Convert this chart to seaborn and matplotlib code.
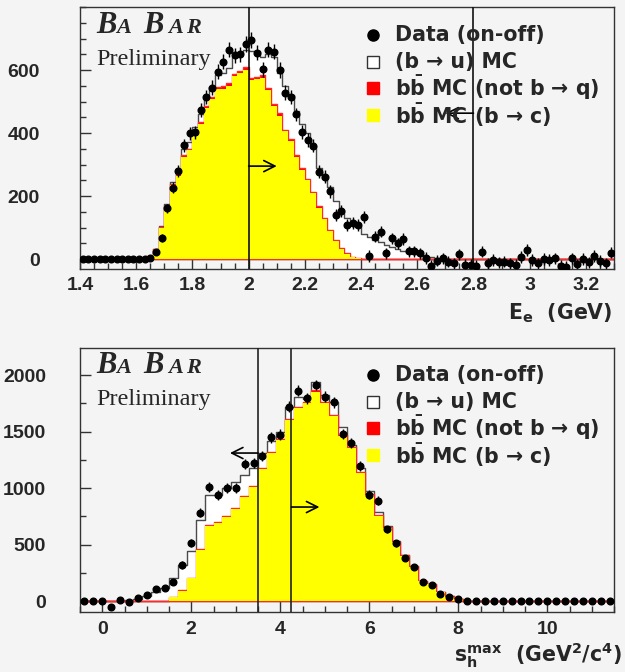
import numpy as np
import pandas as pd
import matplotlib
matplotlib.use("Agg")
import matplotlib.pyplot as plt
import seaborn as sns
from matplotlib.ticker import MultipleLocator, FuncFormatter

# ---------------- Top panel: electron energy E_e (GeV), bins of 0.02 in [1.4, 3.3]
ee_range = (1.4, 3.3)
ee_nbins = 95
ee_data = [0, 0, 0, 0, 0, 0, 0, 0, 0, 0, 0, 0,
           3, 21, 66, 161, 226, 280, 361, 399, 402, 473,
           515, 544, 595, 627, 664, 647, 650, 683, 695, 655,
           602, 664, 658, 600, 528, 515, 459, 404, 378, 360,
           277, 262, 215, 140, 152, 108, 113, 108, 132, 10,
           71, 87, 18, 66, 50, 64, 25, 25, 18, 3,
           -22, -5, 2, -8, -14, 15, -19, -19, -22, 23,
           -14, -3, -10, -8, -14, -19, 7, 29, -3, -14,
           0, -3, 2, -22, -24, 2, -17, 0, -10, 10,
           -6, -14, 20]
ee_err = [3, 3, 3, 3, 3, 3, 3, 3, 3, 3, 3, 3,
          5, 8, 12, 15, 17, 19, 20, 21, 21, 22,
          22, 23, 23, 24, 24, 24, 24, 25, 25, 24,
          24, 24, 24, 24, 23, 23, 22, 22, 21, 21,
          20, 20, 20, 19, 19, 19, 19, 19, 19, 18,
          18, 18, 18, 18, 18, 18, 18, 18, 18, 18,
          18, 18, 18, 18, 18, 18, 18, 18, 18, 18,
          18, 18, 18, 18, 18, 18, 18, 18, 18, 18,
          18, 18, 18, 18, 18, 18, 18, 18, 18, 18,
          18, 18, 18]
ee_bc = [0] * 13 + [30, 100, 165, 235, 265, 325, 345, 390, 428, 480,
                    508, 540, 540, 550, 580, 590, 600, 568, 570, 575,
                    535, 485, 455, 405, 375, 323, 283, 250, 210, 163,
                    127, 90, 58, 32, 17, 6, 2] + [0] * 45
ee_notbq = [0] * 13 + [1, 2, 3, 4, 4, 5, 5, 6, 6, 7,
                       7, 7, 8, 8, 8, 8, 8, 8, 8, 8,
                       7, 7, 7, 6, 6, 6, 5, 5, 4, 4,
                       3, 3, 2, 2, 1, 1, 1] + [0] * 45
ee_bu = [0] * 13 + [2, 3, 7, 6, 16, 20, 20, 24, 26, 28,
                    30, 38, 42, 47, 52, 52, 57, 84, 82, 57,
                    108, 148, 128, 139, 139, 141, 142, 145, 146, 123,
                    125, 137, 125, 121, 112, 111, 100, 81, 71, 62,
                    55, 45, 37, 31, 24, 20, 16, 13, 7, 5,
                    2] + [0] * 31
ee_xticks = [1.4, 1.6, 1.8, 2.0, 2.2, 2.4, 2.6, 2.8, 3.0, 3.2]
ee_yticks = [0, 200, 400, 600]

# ---------------- Bottom panel: s_h^max (GeV^2/c^4), bins of 0.2 in [-0.5, 11.5]
sh_range = (-0.5, 11.5)
sh_nbins = 60
sh_data = [0, 0, 0, -50, 5, -6, 24, 53, 103, 118,
           171, 319, 510, 782, 1006, 938, 1003, 997, 1212, 1224,
           1286, 1450, 1472, 1720, 1861, 1794, 1912, 1808, 1760, 1478,
           1398, 1195, 940, 888, 634, 510, 384, 298, 171, 142,
           62, 38, 15] + [0] * 17
sh_err = [6, 6, 6, 25, 15, 15, 18, 20, 22, 25,
          28, 32, 36, 40, 44, 44, 45, 45, 46, 46,
          46, 47, 47, 48, 48, 48, 48, 48, 47, 46,
          45, 43, 40, 38, 34, 30, 27, 24, 20, 18,
          14, 10, 8] + [4] * 17
sh_bc = [0] * 10 + [32, 88, 201, 451, 667, 687, 746, 814, 923, 1006,
                    1165, 1310, 1425, 1602, 1705, 1749, 1853, 1749, 1640, 1460,
                    1351, 1130, 935, 755, 650, 520, 400, 305, 178, 148,
                    82, 38, 14] + [0] * 17
sh_notbq = [0] * 7 + [2, 3, 4, 5, 6, 7, 8, 9, 10, 10,
                      10, 10, 11, 11, 12, 12, 12, 12, 12, 12,
                      12, 11, 11, 10, 10, 9, 8, 7, 6, 5,
                      4, 3, 3, 2, 2, 1] + [0] * 17
sh_bu = [0] * 5 + [5, 18, 40, 75, 112, 163, 226, 237, 258, 262,
                   243, 241, 232, 182, 158, 130, 98, 61, 106, 86,
                   29, 76, 62, 112, 72, 18, 40, 31, 26, 7,
                   3] + [0] * 24
sh_xticks = [0, 2, 4, 6, 8, 10]
sh_yticks = [0, 500, 1000, 1500, 2000]

legend_labels = ["Data (on-off)",
                 "(b → u) MC",
                 r"b$\mathbf{\bar{b}}$ MC (not b → q)",
                 r"b$\mathbf{\bar{b}}$ MC (b → c)"]

# ---------------- style
BG = "#f4f4f4"
sns.set_style("ticks")
plt.rcParams["font.family"] = ["DejaVu Sans"]
plt.rcParams["font.weight"] = "bold"
plt.rcParams["mathtext.fontset"] = "dejavusans"
plt.rcParams["mathtext.default"] = "bf"

W, H = 625, 672
fig = plt.figure(figsize=(W / 100, H / 100), dpi=100, facecolor=BG)
ax1 = fig.add_axes([80 / W, 1 - 268.5 / H, 534 / W, 261.5 / H])
ax2 = fig.add_axes([80 / W, 1 - 612.3 / H, 534 / W, 264.3 / H])


def draw_panel(ax, rng, nb, data, err, bc, nq, bu):
    edges = np.linspace(rng[0], rng[1], nb + 1)
    centers = 0.5 * (edges[:-1] + edges[1:])
    edges = [float(e) for e in edges]
    df = pd.DataFrame({"x": centers, "bc": bc, "nq": nq, "bu": bu,
                       "data": data, "err": err})
    df["stack_nq"] = df["bc"] + df["nq"]
    df["stack_bu"] = df["stack_nq"] + df["bu"]
    sns.histplot(data=df, x="x", weights="stack_bu", bins=edges, element="step",
                 fill=True, color="white", edgecolor="#4a4a4a", linewidth=1.0,
                 alpha=1, ax=ax, zorder=1)
    sns.histplot(data=df, x="x", weights="stack_nq", bins=edges, element="step",
                 fill=True, color="#ff0000", edgecolor="#ff2a2a", linewidth=1.0,
                 alpha=1, ax=ax, zorder=2)
    sns.histplot(data=df, x="x", weights="bc", bins=edges, element="step",
                 fill=True, color="#ffff00", edgecolor="none", linewidth=0,
                 alpha=1, ax=ax, zorder=3)
    ax.errorbar(df["x"], df["data"], yerr=df["err"], fmt="o", color="black",
                ms=4.8, elinewidth=1.0, capsize=0, zorder=6)
    ax.set_xlim(rng)
    ax.set_xlabel("")
    ax.set_ylabel("")


def style_axes(ax, xmin, ymin, xticks, yticks, ypad):
    ax.set_facecolor(BG)
    for s in ax.spines.values():
        s.set_color("#333333")
        s.set_linewidth(1.0)
        s.set_visible(True)
    ax.set_xticks(xticks)
    ax.set_yticks(yticks)
    ax.xaxis.set_minor_locator(MultipleLocator(xmin))
    ax.yaxis.set_minor_locator(MultipleLocator(ymin))
    ax.xaxis.set_major_formatter(FuncFormatter(lambda v, p: "%g" % v))
    ax.yaxis.set_major_formatter(FuncFormatter(lambda v, p: "%g" % v))
    ax.tick_params(which="both", direction="in", top=False, right=False,
                   color="#333333", width=1.0)
    ax.tick_params(which="major", length=8)
    ax.tick_params(which="minor", length=4)
    ax.tick_params(axis="both", which="major", labelsize=14,
                   labelfontfamily="Liberation Sans")
    ax.tick_params(axis="y", which="major", pad=ypad)
    ax.tick_params(axis="x", which="major", pad=6)
    for lab in ax.get_xticklabels() + ax.get_yticklabels():
        lab.set_fontweight("bold")


def draw_legend(ax, ys):
    xm, xt = 0.549, 0.590
    ax.plot([xm], [ys[0]], "o", color="black", ms=8, transform=ax.transAxes,
            clip_on=False, zorder=8)
    ax.plot([xm], [ys[1]], "s", mfc="white", mec="#333333", mew=1.0, ms=9,
            transform=ax.transAxes, clip_on=False, zorder=8)
    ax.plot([xm], [ys[2]], "s", mfc="#ff0000", mec="#ff0000", ms=9,
            transform=ax.transAxes, clip_on=False, zorder=8)
    ax.plot([xm], [ys[3]], "s", mfc="#ffff00", mec="#ffff00", ms=9,
            transform=ax.transAxes, clip_on=False, zorder=8)
    for y, lab in zip(ys, legend_labels):
        ax.text(xt, y, lab, transform=ax.transAxes, fontsize=14.8,
                fontweight="bold", va="center", ha="left", zorder=8)


def babar(ybase, yprelim):
    letters = [("B", 96, 22), ("A", 116, 16), ("B", 143, 22), ("A", 168, 16), ("R", 186, 16)]
    for ch, x, sz in letters:
        fig.text(x / W, 1 - ybase / H, ch, fontsize=sz, family="Liberation Serif",
                 fontweight="bold", style="italic", va="baseline", ha="left")
    fig.text(96 / W, 1 - yprelim / H, "Preliminary", fontsize=17.5,
             family="Liberation Serif", fontweight="normal", va="baseline", ha="left")


# ---------------- top panel
draw_panel(ax1, ee_range, ee_nbins, ee_data, ee_err, ee_bc, ee_notbq, ee_bu)
ax1.set_ylim(-30, 800)
style_axes(ax1, 0.05, 50, ee_xticks, ee_yticks, 29)
for xv in (2.0, 2.8):
    ax1.axvline(xv, color="#111111", lw=1.2, zorder=5)
ax1.annotate("", xy=(2.1, 295), xytext=(2.0, 295),
             arrowprops=dict(arrowstyle="->", color="black", lw=1.2,
                             mutation_scale=20, shrinkA=0, shrinkB=0), zorder=7)
ax1.annotate("", xy=(2.70, 463), xytext=(2.8, 463),
             arrowprops=dict(arrowstyle="->", color="black", lw=1.2,
                             mutation_scale=20, shrinkA=0, shrinkB=0), zorder=7)
draw_legend(ax1, [0.893, 0.789, 0.690, 0.586])
fig.text(612 / W, 1 - 319 / H, r"E$_\mathbf{e}$  (GeV)", fontsize=14.8,
         fontweight="bold", ha="right", va="baseline")
babar(33, 65)

# ---------------- bottom panel
draw_panel(ax2, sh_range, sh_nbins, sh_data, sh_err, sh_bc, sh_notbq, sh_bu)
ax2.set_ylim(-100, 2240)
style_axes(ax2, 0.5, 250, sh_xticks, sh_yticks, 24.5)
for xv in (3.5, 4.25):
    ax2.axvline(xv, color="#222222", lw=1.2, zorder=5)
ax2.annotate("", xy=(2.87, 1310), xytext=(3.5, 1310),
             arrowprops=dict(arrowstyle="->", color="black", lw=1.2,
                             mutation_scale=20, shrinkA=0, shrinkB=0), zorder=7)
ax2.annotate("", xy=(4.88, 832), xytext=(4.25, 832),
             arrowprops=dict(arrowstyle="->", color="black", lw=1.2,
                             mutation_scale=20, shrinkA=0, shrinkB=0), zorder=7)
draw_legend(ax2, [0.898, 0.796, 0.698, 0.596])
fig.text(622 / W, 1 - 662 / H,
         r"s$_\mathbf{h}^\mathrm{max}$  (GeV$^\mathbf{2}$/c$^\mathbf{4}$)",
         fontsize=14.8, fontweight="bold", ha="right", va="baseline")
babar(373, 405)

fig.savefig("out.png", dpi=100, facecolor=BG)
